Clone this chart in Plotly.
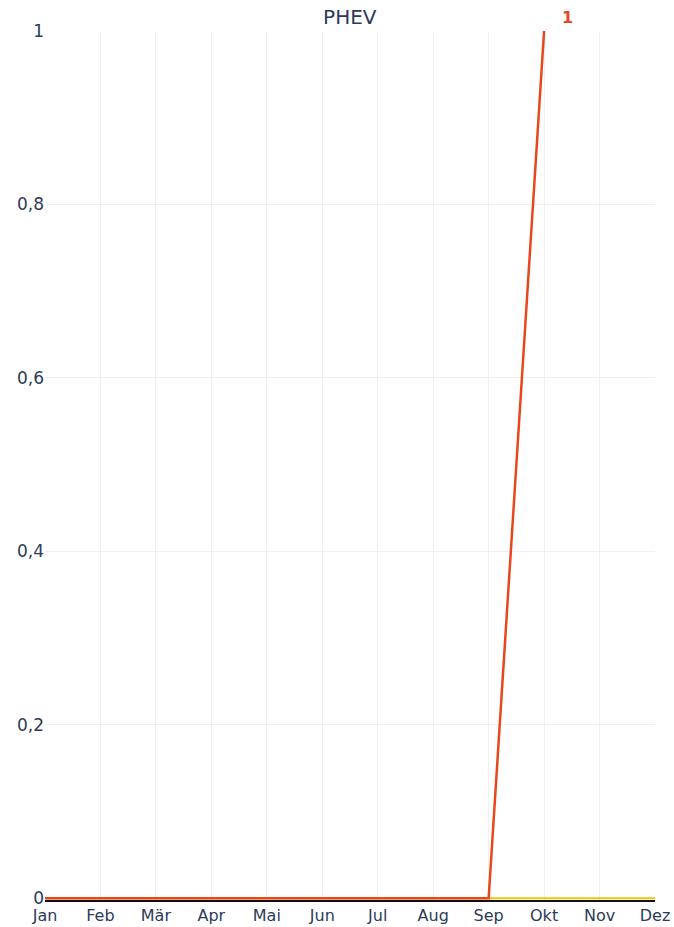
import plotly.graph_objects as go

months = ["Jan", "Feb", "Mär", "Apr", "Mai", "Jun", "Jul", "Aug", "Sep", "Okt", "Nov", "Dez"]
yellow_vals = [0, 0, 0, 0, 0, 0, 0, 0, 0, 0, 0, 0]
red_vals = [0, 0, 0, 0, 0, 0, 0, 0, 0, 1]
y_ticks = [0, 0.2, 0.4, 0.6, 0.8, 1]

font = "DejaVu Sans, sans-serif"
text_col = "#2d3a5a"

fig = go.Figure()
fig.add_trace(go.Scatter(x=months, y=yellow_vals, mode="lines",
                         line=dict(color="#f2c500", width=2), showlegend=False))
fig.add_trace(go.Scatter(x=months[:len(red_vals)], y=red_vals, mode="lines",
                         line=dict(color="#e8471e", width=2.5), showlegend=False))

fig.add_annotation(x=months[len(red_vals) - 1], y=red_vals[-1], text="<b>1</b>",
                   showarrow=False, xshift=23, yshift=14,
                   font=dict(color="#e8471e", size=16, family=font))

fig.update_layout(
    width=674, height=927,
    margin=dict(l=45, r=19, t=31, b=27),
    paper_bgcolor="white", plot_bgcolor="white",
    separators=",.",
    font=dict(family=font, color=text_col, size=16),
    title=dict(text="PHEV", x=0.519, xanchor="center", y=1 - 17 / 927, yanchor="middle",
               automargin=False,
               font=dict(size=20, color=text_col, family=font)),
)
fig.update_xaxes(type="category", categoryorder="array", categoryarray=months,
                 showgrid=True, gridcolor="#f0f0f0", gridwidth=1, automargin=False,
                 showline=True, linecolor="#111111", linewidth=2, ticks="",
                 layer="below traces",
                 tickfont=dict(size=16, color=text_col),
                 range=[0, len(months) - 1])
fig.update_yaxes(range=[-0.002, 1], tickvals=y_ticks, showgrid=True, gridcolor="#f0f0f0",
                 zeroline=False, showline=False, ticks="", automargin=False,
                 tickfont=dict(size=17, color=text_col))

fig.write_html("out.html", config={"displayModeBar": False},
               post_script="document.body.style.margin='0';")
